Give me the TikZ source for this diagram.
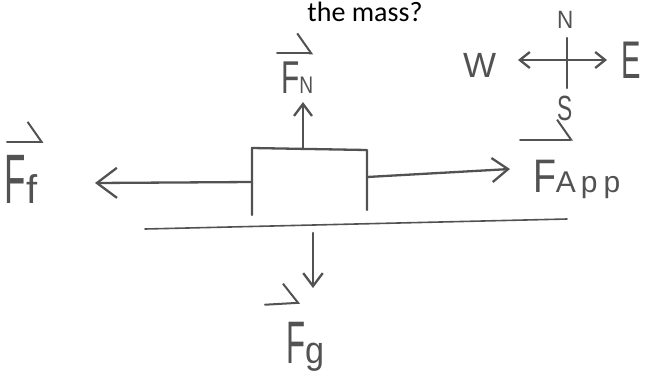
\documentclass[tikz,border=0pt]{standalone}
\usepackage{fontspec}
\setmainfont{Liberation Sans}
\newfontfamily\titlefont{Carlito}
\usetikzlibrary{arrows.meta}
\definecolor{pencil}{gray}{0.32}
\newcommand{\hw}[3]{{\fontsize{#1}{#1}\selectfont\scalebox{#2}[1]{#3}}}
\tikzset{
  pen/.style={draw=pencil, line width=2.3pt, line cap=round, line join=round},
  bigtip/.style={-{Straight Barb[length=#1pt, width=1.5*#1pt, line width=2.3pt]}},
  vecarrow/.style={pen, line width=2pt, -{Straight Barb[harpoon, length=14pt, width=40pt, line width=2pt]}},
  lab/.style={inner sep=0pt, outer sep=0pt, text=pencil, anchor=base west},
}
\begin{document}
\begin{tikzpicture}[x=1pt,y=-1pt]
\useasboundingbox (0,0) rectangle (645,384);
% title
\node[inner sep=0pt, anchor=base, font=\titlefont\fontsize{28}{28}\selectfont] (title) at (365,21) {the mass?};

% box (open at the bottom)
\coordinate (bsw) at (252,215);
\coordinate (bnw) at (252,148);
\coordinate (bne) at (367,150);
\coordinate (bse) at (367,210);
\draw[pen] (bsw) -- (bnw) -- (bne) -- (bse);

% ground line
\coordinate (g1) at (145,229);
\coordinate (g2) at (567,219);
\draw[pen, line width=1.6pt] (g1) -- (g2);

% force arrows
\coordinate (upA) at (303,149);
\coordinate (upB) at (303,102);
\draw[pen, bigtip=12] (upA) -- (upB);
\coordinate (lfA) at (252,182);
\coordinate (lfB) at (95,183);
\draw[pen, bigtip=20] (lfA) -- (lfB);
\coordinate (rtA) at (367,177);
\coordinate (rtB) at (510,169);
\draw[pen, bigtip=16] (rtA) -- (rtB);
\coordinate (dnA) at (313,233);
\coordinate (dnB) at (313,288);
\draw[pen, bigtip=13] (dnA) -- (dnB);

% labels
\node[lab] (fn) at (281,93) {\hw{46}{0.65}{F}\hw{24}{0.8}{N}};
\draw[vecarrow] ([shift={(-4,-8)}]fn.north west) -- ([shift={(0,-8)}]fn.north east);

\node[lab] (ff) at (5,203) {\hw{70}{0.5}{F}\hw{40}{1}{f}};
\draw[vecarrow] ([shift={(2,-13)}]ff.north west) -- ([shift={(6,-13)}]ff.north east);

\node[lab] (fapp) at (533,192) {\hw{47}{0.8}{F}\hw{30}{1}{A\kern5pt p\kern6pt p}};
\draw[vecarrow] ([shift={(-13,-20)}]fapp.north west) -- ([shift={(40,-20)}]fapp.north west);

\node[lab] (fg) at (286,363) {\hw{60}{0.52}{F}\hw{38}{0.9}{g}};
\draw[vecarrow] ([shift={(-21,-17)}]fg.north west) -- ([shift={(14,-19)}]fg.north west);

% compass
\node[lab] (cn) at (557,28) {\hw{25}{0.9}{N}};
\node[lab] (cw) at (463,77) {\hw{35}{1}{W}};
\node[lab] (ce) at (621,78) {\hw{53}{0.55}{E}};
\node[lab] (cs) at (557,120) {\hw{35}{0.65}{S}};
\coordinate (cwA) at (518,60);
\coordinate (ceA) at (607,60);
\coordinate (cnA) at (567,38);
\coordinate (csA) at (567,88);
\draw[pen, {Straight Barb[length=10pt, width=16pt, line width=2.3pt]}-{Straight Barb[length=10pt, width=16pt, line width=2.3pt]}] (cwA) -- (ceA);
\draw[pen] (cnA) -- (csA);
\end{tikzpicture}
\end{document}
